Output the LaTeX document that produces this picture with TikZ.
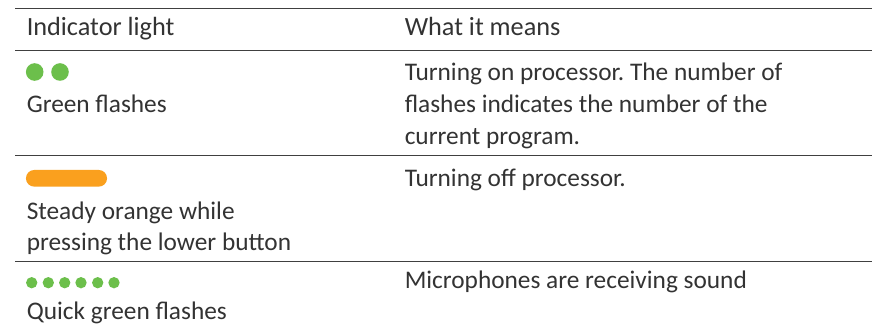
\documentclass[tikz,border=0pt]{standalone}
\usepackage{fontspec}
\setmainfont{Carlito}
\frenchspacing
\definecolor{gr}{HTML}{6CBF4B}
\definecolor{og}{HTML}{FAA01E}
\definecolor{tx}{HTML}{333333}
\tikzset{lbl/.style={anchor=base west,inner sep=0pt,font=\fontsize{19pt}{19pt}\selectfont,text=tx},
hdr/.style={lbl,font=\fontsize{19.7pt}{19.7pt}\selectfont},
rule/.style={line width=0.6pt,black!75},
bigdot/.style={circle,fill=gr,inner sep=0pt,minimum size=13.2pt},
smalldot/.style={circle,fill=gr,inner sep=0pt,minimum size=8.5pt},
pill/.style={rounded corners=6.2pt,fill=og,inner sep=0pt,minimum width=60.8pt,minimum height=12.5pt}}
\begin{document}
\begin{tikzpicture}[x=0.75pt,y=-0.75pt]
\useasboundingbox (0,0) rectangle (872,331);
\fill[white] (0,0) rectangle (872,331);
\coordinate (r1a) at (15,8.5);\coordinate (r1b) at (872,8.5);
\coordinate (r2a) at (15,50);\coordinate (r2b) at (872,50);
\coordinate (r3a) at (15,155.5);\coordinate (r3b) at (872,155.5);
\coordinate (r4a) at (15,261);\coordinate (r4b) at (872,261);
\draw[rule] (r1a)--(r1b); \draw[rule] (r2a)--(r2b); \draw[rule] (r3a)--(r3b); \draw[rule] (r4a)--(r4b);
\node[hdr] (h1) at (26.5,36) {Indicator light};
\node[hdr] (h2) at (404.5,36) {What it means};
\node[bigdot] (d1) at (34.7,72) {};
\node[bigdot] (d2) at (60,72) {};
\node[lbl] (t1) at (26.5,113) {Green flashes};
\node[lbl] (m1) at (404.5,80.7) {Turning on processor. The number of};
\node[lbl] (m2) at (404.5,113) {flashes indicates the number of the};
\node[lbl] (m3) at (404.5,145) {current program.};
\node[pill] (p) at (66.5,178.3) {};
\node[lbl] (t2) at (26.5,219.5) {Steady orange while};
\node[lbl] (t3) at (26.5,250.7) {pressing the lower button};
\node[lbl] (m4) at (404.5,186.7) {Turning off processor.};
\foreach \i/\x in {1/31.7,2/48.3,3/64.7,4/81,5/97.7,6/114}{\node[smalldot] (s\i) at (\x,282.7) {};}
\node[lbl] (t4) at (26.5,320) {Quick green flashes};
\node[lbl] (m5) at (404.5,289) {Microphones are receiving sound};
\end{tikzpicture}
\end{document}
